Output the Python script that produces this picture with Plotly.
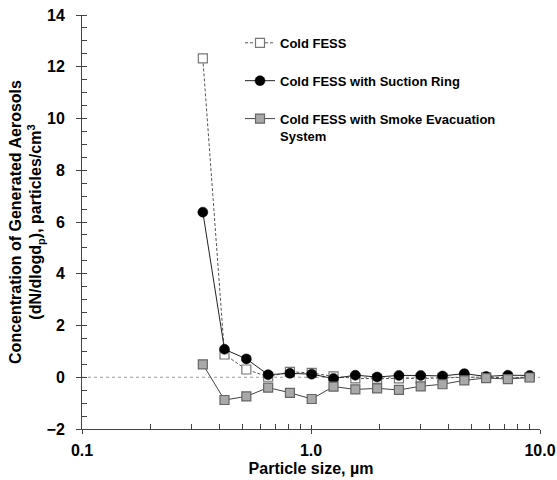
import plotly.graph_objects as go

# Particle size bins (µm)
sizes = [0.337, 0.419, 0.522, 0.650, 0.809, 1.007, 1.254, 1.562, 1.944,
         2.421, 3.014, 3.752, 4.672, 5.816, 7.241, 9.016]

cold_fess = [12.32, 0.88, 0.30, 0.02, 0.21, 0.17, 0.03, -0.04, -0.06,
             -0.04, -0.05, -0.02, 0.00, 0.00, -0.02, 0.00]
suction_ring = [6.38, 1.08, 0.71, 0.10, 0.15, 0.12, -0.05, 0.08, 0.01,
                0.07, 0.07, 0.05, 0.14, 0.03, 0.08, 0.07]
smoke_evac = [0.50, -0.88, -0.74, -0.40, -0.60, -0.84, -0.36, -0.47, -0.43,
              -0.49, -0.35, -0.27, -0.12, -0.03, -0.07, -0.01]

series_names = ["Cold FESS", "Cold FESS with Suction Ring",
                "Cold FESS with Smoke Evacuation<br>System"]

x_tickvals = [0.1, 1, 10]
x_ticktext = ["0.1", "1.0", "10.0"]
x_minor = [0.2, 0.3, 0.4, 0.5, 0.6, 0.7, 0.8, 0.9,
           2, 3, 4, 5, 6, 7, 8, 9]

FONT = "Arial, Liberation Sans, Helvetica, sans-serif"

fig = go.Figure()

fig.add_trace(go.Scatter(
    x=sizes, y=cold_fess, name=series_names[0], mode="lines+markers",
    line=dict(color="#555555", width=1, dash="3px,2px"),
    marker=dict(symbol="square", size=9, color="white",
                line=dict(color="#777777", width=1.2)),
    legendgroup="a"))
fig.add_trace(go.Scatter(
    x=sizes, y=suction_ring, name=series_names[1], mode="lines+markers",
    line=dict(color="#222222", width=1),
    marker=dict(symbol="circle", size=10, color="black",
                line=dict(color="black", width=0.5)),
    legendgroup="b"))
fig.add_trace(go.Scatter(
    x=sizes, y=smoke_evac, name=series_names[2], mode="lines+markers",
    line=dict(color="#444444", width=1),
    marker=dict(symbol="square", size=9, color="#a9a9a9",
                line=dict(color="#666666", width=1.2)),
    legendgroup="c"))

# dummy trace for overlay axes (inner halves of the crossing major ticks)
fig.add_trace(go.Scatter(x=[1], y=[0], xaxis="x2", yaxis="y2", mode="markers",
                         marker=dict(opacity=0), showlegend=False,
                         hoverinfo="skip"))

fig.add_shape(type="line", xref="paper", yref="y", x0=0, x1=1, y0=0, y1=0,
              line=dict(color="#9a9a9a", width=1, dash="dot"), layer="below")

axis_color = "#444444"

fig.update_layout(
    width=557, height=480,
    margin=dict(l=82, r=17, t=15, b=51),
    paper_bgcolor="white", plot_bgcolor="white",
    font=dict(family=FONT, color="black"),
    showlegend=True,
    legend=dict(x=0.345, y=0.969, xanchor="left", yanchor="top",
                bgcolor="rgba(0,0,0,0)", traceorder="grouped",
                tracegroupgap=18, valign="top", itemwidth=30,
                font=dict(family=FONT, size=13, color="black", weight="bold")),
    xaxis=dict(type="log", range=[-1, 1], showgrid=False, zeroline=False,
               automargin=False,
               showline=True, linecolor=axis_color, linewidth=1,
               tickmode="array", tickvals=x_tickvals, ticktext=x_ticktext,
               ticks="outside", ticklen=4, tickcolor=axis_color,
               ticklabelstandoff=3,
               tickfont=dict(family=FONT, size=16, weight="bold"),
               minor=dict(tickmode="array", tickvals=x_minor, ticks="inside",
                          ticklen=5, tickcolor=axis_color),
               title=dict(text="Particle size, µm", standoff=4,
                          font=dict(family=FONT, size=16, weight="bold"))),
    yaxis=dict(range=[-2, 14], showgrid=False, zeroline=False,
               automargin=False,
               showline=True, linecolor=axis_color, linewidth=1,
               dtick=2, ticks="outside", ticklen=5, tickcolor=axis_color,
               ticklabelstandoff=8,
               tickfont=dict(family=FONT, size=16, weight="bold"),
               minor=dict(dtick=0.5, ticks="inside", ticklen=5,
                          tickcolor=axis_color),
               title=dict(text="Concentration of Generated Aerosols<br>"
                               "(dN/dlogd<sub>p</sub>), particles/cm<sup>3</sup>",
                          standoff=0,
                          font=dict(family=FONT, size=16, weight="bold"))),
    xaxis2=dict(type="log", range=[-1, 1], overlaying="x", anchor="y2",
                side="bottom", showgrid=False, zeroline=False, showline=False,
                automargin=False,
                tickmode="array", tickvals=x_tickvals, ticks="inside",
                ticklen=4, tickcolor=axis_color, showticklabels=False),
    yaxis2=dict(range=[-2, 14], overlaying="y", anchor="x2", side="left",
                showgrid=False, zeroline=False, showline=False, dtick=2,
                automargin=False,
                ticks="inside", ticklen=4, tickcolor=axis_color,
                showticklabels=False),
)

fig.write_html("out.html", config={"displayModeBar": False},
               post_script="document.body.style.margin='0';")
